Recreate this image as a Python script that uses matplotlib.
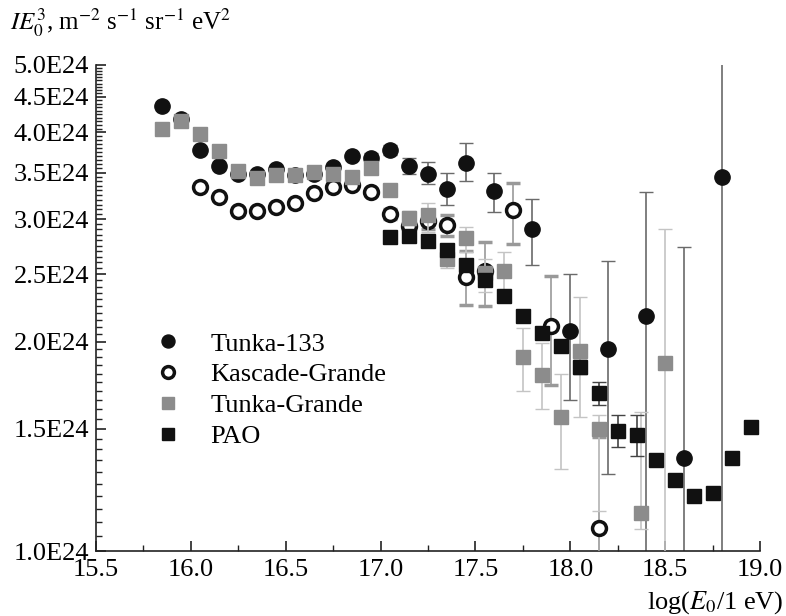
import numpy as np
import matplotlib
matplotlib.use('Agg')
import matplotlib.pyplot as plt
from matplotlib.ticker import FixedLocator, FuncFormatter

plt.rcParams['font.family'] = ['Liberation Serif', 'DejaVu Serif']
plt.rcParams['mathtext.fontset'] = 'stix'

SCALE = 1e24

# Tunka-133 (values in units of 1E24)
t133_x = [15.85, 15.95, 16.05, 16.15, 16.25, 16.35, 16.45, 16.55, 16.65, 16.75,
          16.85, 16.95, 17.05, 17.15, 17.25, 17.35, 17.45, 17.6, 17.8, 18.0,
          18.2, 18.4, 18.6, 18.8]
t133_y = [4.36, 4.18, 3.77, 3.58, 3.48, 3.49, 3.54, 3.47, 3.48, 3.57,
          3.70, 3.68, 3.77, 3.58, 3.49, 3.32, 3.62, 3.29, 2.90, 2.07,
          1.95, 2.18, 1.36, 3.45]
t133_lo = [0, 0, 0, 0, 0, 0, 0, 0, 0, 0,
           0, 0.06, 0.06, 0.10, 0.12, 0.17, 0.22, 0.22, 0.32, 0.42,
           0.66, 1.5, 1.0, 3.0]
t133_hi = [0, 0, 0, 0, 0, 0, 0, 0, 0, 0,
           0, 0.06, 0.06, 0.10, 0.14, 0.18, 0.24, 0.21, 0.31, 0.43,
           0.66, 1.10, 1.38, 3.0]

# Kascade-Grande
kg_x = [16.05, 16.15, 16.25, 16.35, 16.45, 16.55, 16.65, 16.75, 16.85, 16.95,
        17.05, 17.15, 17.25, 17.35, 17.45, 17.55, 17.7, 17.9, 18.15]
kg_y = [3.34, 3.23, 3.08, 3.08, 3.12, 3.17, 3.27, 3.34, 3.36, 3.28,
        3.05, 2.93, 2.98, 2.94, 2.48, 2.53, 3.09, 2.11, 1.08]
kg_lo = [0, 0, 0, 0, 0, 0, 0, 0, 0, 0,
         0.05, 0.06, 0.08, 0.10, 0.22, 0.28, 0.33, 0.38, 0.2]
kg_hi = [0, 0, 0, 0, 0, 0, 0, 0, 0, 0,
         0.05, 0.06, 0.08, 0.10, 0.22, 0.25, 0.29, 0.38, 0.38]

# Tunka-Grande
tg_x = [15.85, 15.95, 16.05, 16.15, 16.25, 16.35, 16.45, 16.55, 16.65, 16.75,
        16.85, 16.95, 17.05, 17.15, 17.25, 17.35, 17.45, 17.55, 17.65, 17.75,
        17.85, 17.95, 18.05, 18.15, 18.37, 18.5]
tg_y = [4.04, 4.16, 3.98, 3.76, 3.52, 3.44, 3.47, 3.47, 3.51, 3.49,
        3.45, 3.55, 3.30, 3.01, 3.04, 2.63, 2.82, 2.51, 2.53, 1.90,
        1.79, 1.56, 1.94, 1.50, 1.135, 1.865]
tg_lo = [0, 0, 0, 0, 0, 0, 0, 0, 0, 0,
         0, 0, 0.05, 0.07, 0.16, 0.08, 0.13, 0.15, 0.16, 0.20,
         0.19, 0.25, 0.38, 0.36, 0.06, 1.0]
tg_hi = [0, 0, 0, 0, 0, 0, 0, 0, 0, 0,
         0, 0, 0.05, 0.07, 0.13, 0.06, 0.10, 0.12, 0.16, 0.19,
         0.20, 0.24, 0.38, 0.07, 0.45, 1.04]

# PAO
pao_x = [17.05, 17.15, 17.25, 17.35, 17.45, 17.55, 17.65, 17.75, 17.85, 17.95,
         18.05, 18.15, 18.25, 18.35, 18.45, 18.55, 18.65, 18.75, 18.85, 18.95]
pao_y = [2.83, 2.84, 2.79, 2.71, 2.58, 2.45, 2.33, 2.18, 2.06, 1.97,
         1.84, 1.69, 1.49, 1.47, 1.35, 1.265, 1.20, 1.21, 1.36, 1.51]
pao_lo = [0, 0, 0, 0, 0, 0, 0, 0, 0, 0,
          0.04, 0.07, 0.08, 0.10, 0, 0, 0, 0, 0, 0]
pao_hi = [0, 0, 0, 0, 0, 0, 0, 0, 0, 0,
          0.04, 0.06, 0.08, 0.10, 0, 0, 0, 0, 0, 0]

y_major = [1.0, 1.5, 2.0, 2.5, 3.0, 3.5, 4.0, 4.5, 5.0]
x_major = [15.5, 16.0, 16.5, 17.0, 17.5, 18.0, 18.5, 19.0]


def scaled(vals):
    return np.array(vals) * SCALE


fig = plt.figure(figsize=(7.86, 6.16), dpi=100)
ax = fig.add_axes([0.122, 0.1055, 0.845, 0.789])

ax.errorbar(t133_x, scaled(t133_y), yerr=[scaled(t133_lo), scaled(t133_hi)],
            fmt='o', ms=11, color='#111111', ecolor='#6a6a6a', elinewidth=1.2,
            capsize=5, capthick=1, label='Tunka-133', zorder=2)
ax.errorbar(kg_x, scaled(kg_y), yerr=[scaled(kg_lo), scaled(kg_hi)],
            fmt='o', ms=10, mfc='white', mec='#111111', mew=2.5,
            ecolor='#999999', elinewidth=1.2, capsize=5, capthick=1,
            label='Kascade-Grande', zorder=3)
ax.errorbar(tg_x, scaled(tg_y), yerr=[scaled(tg_lo), scaled(tg_hi)],
            fmt='s', ms=10, color='#8c8c8c', ecolor='#c4c4c4', elinewidth=1.2,
            capsize=5, capthick=1, label='Tunka-Grande', zorder=4)
ax.errorbar(pao_x, scaled(pao_y), yerr=[scaled(pao_lo), scaled(pao_hi)],
            fmt='s', ms=10, color='#111111', ecolor='#444444', elinewidth=1.2,
            capsize=5, capthick=1, label='PAO', zorder=5)

ax.set_yscale('log')
ax.set_ylim(1.0 * SCALE, 5.0 * SCALE)
ax.set_xlim(15.5, 19.0)

ax.yaxis.set_major_locator(FixedLocator(scaled(y_major)))
y_minor = [v / 100 for v in range(100, 501, 5) if v % 50 != 0]
ax.yaxis.set_minor_locator(FixedLocator(scaled(y_minor)))
ax.yaxis.set_major_formatter(FuncFormatter(lambda v, p: f'{v / SCALE:.1f}E24'))
ax.yaxis.set_minor_formatter(FuncFormatter(lambda v, p: ''))

ax.xaxis.set_major_locator(FixedLocator(x_major))
ax.xaxis.set_minor_locator(FixedLocator([15.75, 16.25, 16.75, 17.25, 17.75, 18.25, 18.75]))
ax.xaxis.set_major_formatter(FuncFormatter(lambda v, p: f'{v:.1f}'))

ax.tick_params(which='both', direction='in', labelsize=19, color='#222222')
ax.tick_params(which='major', length=7, width=1.2)
ax.tick_params(which='minor', length=4.5, width=1.0)
ax.tick_params(axis='x', pad=6)
ax.tick_params(axis='y', pad=5)

for side in ['top', 'right']:
    ax.spines[side].set_visible(False)
for side in ['left', 'bottom']:
    ax.spines[side].set_linewidth(1.2)
    ax.spines[side].set_color('#222222')

handles, labels = ax.get_legend_handles_labels()
handles = [h[0] for h in handles]
ax.legend(handles, labels, loc='upper left', bbox_to_anchor=(0.077, 0.472),
          frameon=False, fontsize=19, handlelength=0.8, handletextpad=1.2,
          labelspacing=0.28, markerscale=0.85, borderaxespad=0)

fig.text(0.013, 0.965, r'$IE_0^3$, m$^{-2}$ s$^{-1}$ sr$^{-1}$ eV$^2$',
         fontsize=18, ha='left', va='center')
fig.text(0.997, 0.022, r'log($E_0$/1 eV)', fontsize=19, ha='right', va='center')

fig.savefig('out.png', dpi=100)
